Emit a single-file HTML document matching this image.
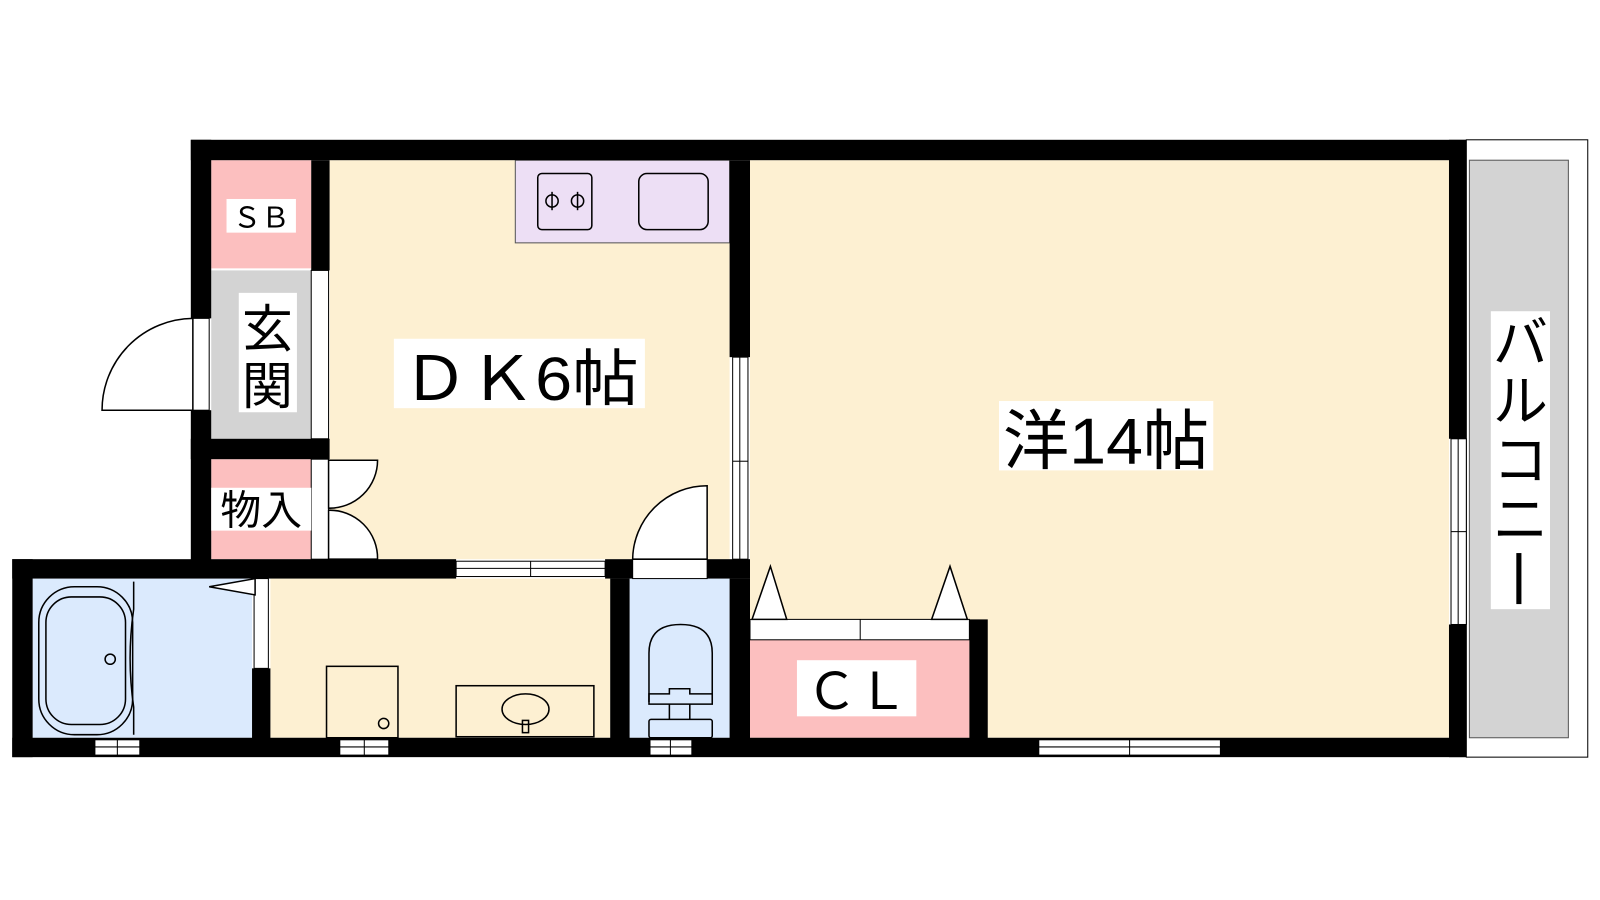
<!DOCTYPE html>
<html><head><meta charset="utf-8"><style>html,body{margin:0;padding:0;background:#fff}svg{display:block}</style></head>
<body>
<svg width="1600" height="900" viewBox="0 0 1568 882" xmlns="http://www.w3.org/2000/svg" font-family="'Liberation Sans','Noto Sans CJK JP',sans-serif">
<rect width="1568" height="882" fill="#fff"/>
<rect x="1437" y="137" width="119" height="605" fill="#fff" stroke="#000" stroke-width="1"/>
<rect x="1440" y="157" width="97" height="566" fill="#d3d3d3" stroke="#555" stroke-width="1"/>
<rect x="323" y="157" width="392" height="391" fill="#fdf0d2"/>
<rect x="735" y="157" width="685" height="566" fill="#fdf0d2"/>
<rect x="207" y="157" width="98" height="106" fill="#fcbfbf"/>
<rect x="207" y="265" width="98" height="165" fill="#d3d3d3"/>
<rect x="207" y="450" width="98" height="98" fill="#fcbfbf"/>
<rect x="505" y="157" width="210" height="81" fill="#eddff5" stroke="#555" stroke-width="1"/>
<rect x="32" y="567" width="215" height="156" fill="#dbeafd"/>
<rect x="265" y="567" width="333" height="156" fill="#fdf0d2"/>
<rect x="617" y="567" width="98" height="156" fill="#dbeafd"/>
<rect x="735" y="627" width="215" height="96" fill="#fcbfbf"/>
<g fill="#000">
<rect x="187" y="137" width="1250" height="20"/>
<rect x="187" y="137" width="20" height="175"/>
<rect x="187" y="402" width="20" height="160"/>
<rect x="305" y="157" width="18" height="108"/>
<rect x="187" y="430" width="136" height="20"/>
<rect x="715" y="157" width="20" height="193"/>
<rect x="1420" y="137" width="17" height="293"/>
<rect x="1420" y="612" width="17" height="130"/>
<rect x="12" y="548" width="435" height="19"/>
<rect x="593" y="548" width="27" height="19"/>
<rect x="693" y="548" width="42" height="19"/>
<rect x="12" y="548" width="20" height="194"/>
<rect x="12" y="723" width="1425" height="19"/>
<rect x="247" y="655" width="18" height="70"/>
<rect x="598" y="567" width="19" height="158"/>
<rect x="715" y="567" width="20" height="158"/>
<rect x="950" y="607" width="18" height="118"/>
</g>
<g fill="#fff" stroke="#000" stroke-width="1">
<rect x="305" y="265" width="17" height="165"/>
<rect x="718" y="350" width="15" height="198"/>
<line x1="725" y1="350" x2="725" y2="548"/>
<line x1="718" y1="452" x2="733" y2="452"/>
<rect x="1422" y="430" width="15" height="182"/>
<line x1="1429" y1="430" x2="1429" y2="612"/>
<line x1="1422" y1="521" x2="1437" y2="521"/>
<rect x="447" y="550" width="146" height="15"/>
<line x1="447" y1="557" x2="593" y2="557"/><line x1="520" y1="550" x2="520" y2="565"/>
<rect x="620" y="548" width="73" height="19"/>
<rect x="93" y="725" width="44" height="15"/><line x1="93" y1="732" x2="137" y2="732"/><line x1="115" y1="725" x2="115" y2="740"/>
<rect x="333" y="725" width="48" height="15"/><line x1="333" y1="732" x2="381" y2="732"/><line x1="357" y1="725" x2="357" y2="740"/>
<rect x="637" y="725" width="41" height="15"/><line x1="637" y1="732" x2="678" y2="732"/><line x1="657" y1="725" x2="657" y2="740"/>
<rect x="1018" y="725" width="178" height="15"/><line x1="1018" y1="732" x2="1196" y2="732"/><line x1="1107" y1="725" x2="1107" y2="740"/>
<rect x="189" y="312" width="16" height="90"/>
<rect x="305" y="450" width="17" height="98"/>
<rect x="249" y="567" width="14" height="88"/>
<rect x="735" y="607" width="215" height="20"/><line x1="843" y1="607" x2="843" y2="627"/>
</g>
<g fill="#fff" stroke="#000" stroke-width="1.5">
<path d="M189 312 A90 90 0 0 0 100 402 L189 402 Z"/>
<path d="M322 451 L370 451 A47 47 0 0 1 322 498 Z"/>
<path d="M322 548 L370 548 A47 47 0 0 0 322 500 Z"/>
<path d="M693 548 L693 476 A73 73 0 0 0 620 548 Z"/>
<path d="M250 567 L205 575 L250 583 Z"/>
<path d="M737 607 L755 555 L771 607 Z"/>
<path d="M913 607 L931 555 L948 607 Z"/>
</g>
<g fill="none" stroke="#000" stroke-width="1.5">
<rect x="527" y="170" width="53" height="55" rx="4"/>
<circle cx="541" cy="197" r="6"/><circle cx="566" cy="197" r="6"/>
<line x1="541" y1="188" x2="541" y2="206"/><line x1="566" y1="188" x2="566" y2="206"/>
<rect x="626" y="170" width="68" height="55" rx="8"/>
<rect x="38" y="575" width="92" height="145" rx="35"/>
<rect x="45" y="585" width="78" height="125" rx="25"/>
<circle cx="108" cy="646" r="5"/>
<path d="M131 570 L131 597 Q124 645 131 693 L131 720"/>
<rect x="320" y="653" width="70" height="70"/>
<circle cx="376" cy="709" r="5"/>
<rect x="447" y="672" width="135" height="50"/>
<ellipse cx="515" cy="695" rx="23" ry="15"/>
<rect x="512" y="706" width="6" height="12"/>
<path d="M636 688 L636 640 Q636 612 667 612 Q698 612 698 640 L698 688"/>
<path d="M636 680 L656 680 L656 675 L676 675 L676 680 L698 680 L698 690 L636 690 Z"/>
<rect x="636" y="705" width="62" height="18" rx="2"/>
<line x1="656" y1="690" x2="656" y2="705"/><line x1="676" y1="690" x2="676" y2="705"/>
</g>
<g fill="#fff">
<rect x="222" y="195" width="68" height="33"/>
<rect x="234" y="287" width="57" height="117"/>
<rect x="207" y="478" width="98" height="42"/>
<rect x="386" y="332" width="246" height="68"/>
<rect x="979" y="393" width="210" height="68"/>
<rect x="1461" y="305" width="58" height="292"/>
<rect x="781" y="647" width="117" height="55"/>
</g>
<g fill="#000">
<text x="256" y="223" font-size="28" text-anchor="middle">ＳＢ</text>
<text x="262" y="340" font-size="50" text-anchor="middle">玄</text>
<text x="262" y="396" font-size="50" text-anchor="middle">関</text>
<text x="256" y="514" font-size="40" text-anchor="middle">物入</text>
<text x="394" y="392" font-size="60" textLength="232" lengthAdjust="spacingAndGlyphs">ＤＫ6帖</text>
<text x="983" y="454" font-size="64" textLength="202" lengthAdjust="spacingAndGlyphs">洋14帖</text>
<text x="840" y="695" font-size="50" text-anchor="middle">ＣＬ</text>
<g font-size="54" text-anchor="middle">
<text x="1490" y="355">バ</text>
<text x="1490" y="412">ル</text>
<text x="1490" y="470">コ</text>
<text x="1490" y="528">ニ</text>
</g>
<rect x="1486" y="542" width="5" height="50"/>
</g>
</svg>
</body></html>
